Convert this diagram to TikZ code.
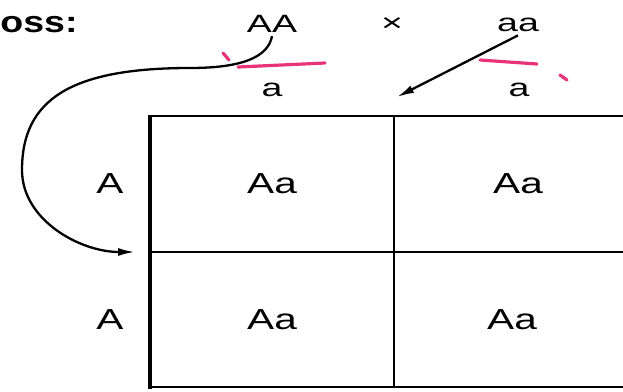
\documentclass[tikz,border=0pt]{standalone}
\usepackage{fontspec}
\setmainfont{Liberation Sans}
\usepackage{tikz}
\usetikzlibrary{arrows.meta,positioning}
\definecolor{penpink}{RGB}{232,50,122}

\begin{document}
\begin{tikzpicture}[x=1pt,y=-1pt,
    allele/.style={font=\fontsize{25}{28}\selectfont,xscale=1.5},
    cell/.style={font=\fontsize{29}{32}\selectfont,xscale=1.4},
    penline/.style={penpink,line width=3.2pt,line cap=round},
    gam/.style={-{Latex[length=17pt,width=8pt]},line width=2.3pt}]
  \useasboundingbox (0,0) rectangle (623,391);
  % parents
  \node[font=\bfseries\fontsize{30}{32}\selectfont,xscale=1.25,anchor=west] (cross) at (-4,25) {oss:};
  \node[allele] (AA) at (272,24) {AA};
  \node[allele] (times) at (392,25) {×};
  \node[allele] (aa) at (518,25) {aa};
  % gametes
  \node[allele] (gamL) at (272,90) {a};
  \node[allele] (gamR) at (519,90) {a};
  \node[cell] (rowA) at (110,184) {A};
  \node[cell] (rowB) at (110,320) {A};
  % square
  \draw[line width=2.6pt] (150,116) -- (623,116);
  \draw[line width=2.2pt] (150,252) -- (623,252);
  \draw[line width=2.8pt] (150,387) -- (623,387);
  \draw[line width=3.8pt] (150,114.5) -- (150,388.5);
  \draw[line width=2.2pt] (394,116) -- (394,387);
  \node[cell] (c11) at (272,184) {Aa};
  \node[cell] (c12) at (518,184) {Aa};
  \node[cell] (c21) at (272,320) {Aa};
  \node[cell] (c22) at (512,320) {Aa};
  % arrows
  \coordinate (rowgap) at (135,252);
  \coordinate (gamtip) at (397,97);
  \draw[gam] (AA.south) .. controls (268,58) and (240,68) .. (190,68)
    .. controls (70,68) and (22,100) .. (22,170)
    .. controls (22,220) and (80,252) .. (rowgap);
  \draw[gam] (aa.south) -- (gamtip);
  % pen marks
  \draw[penline] (238,67) -- (325,63);
  \draw[penline] (223,53) -- (229,60);
  \draw[penline] (480,60) -- (537,64);
  \draw[penline] (560,75) -- (567,80);
\end{tikzpicture}
\end{document}
